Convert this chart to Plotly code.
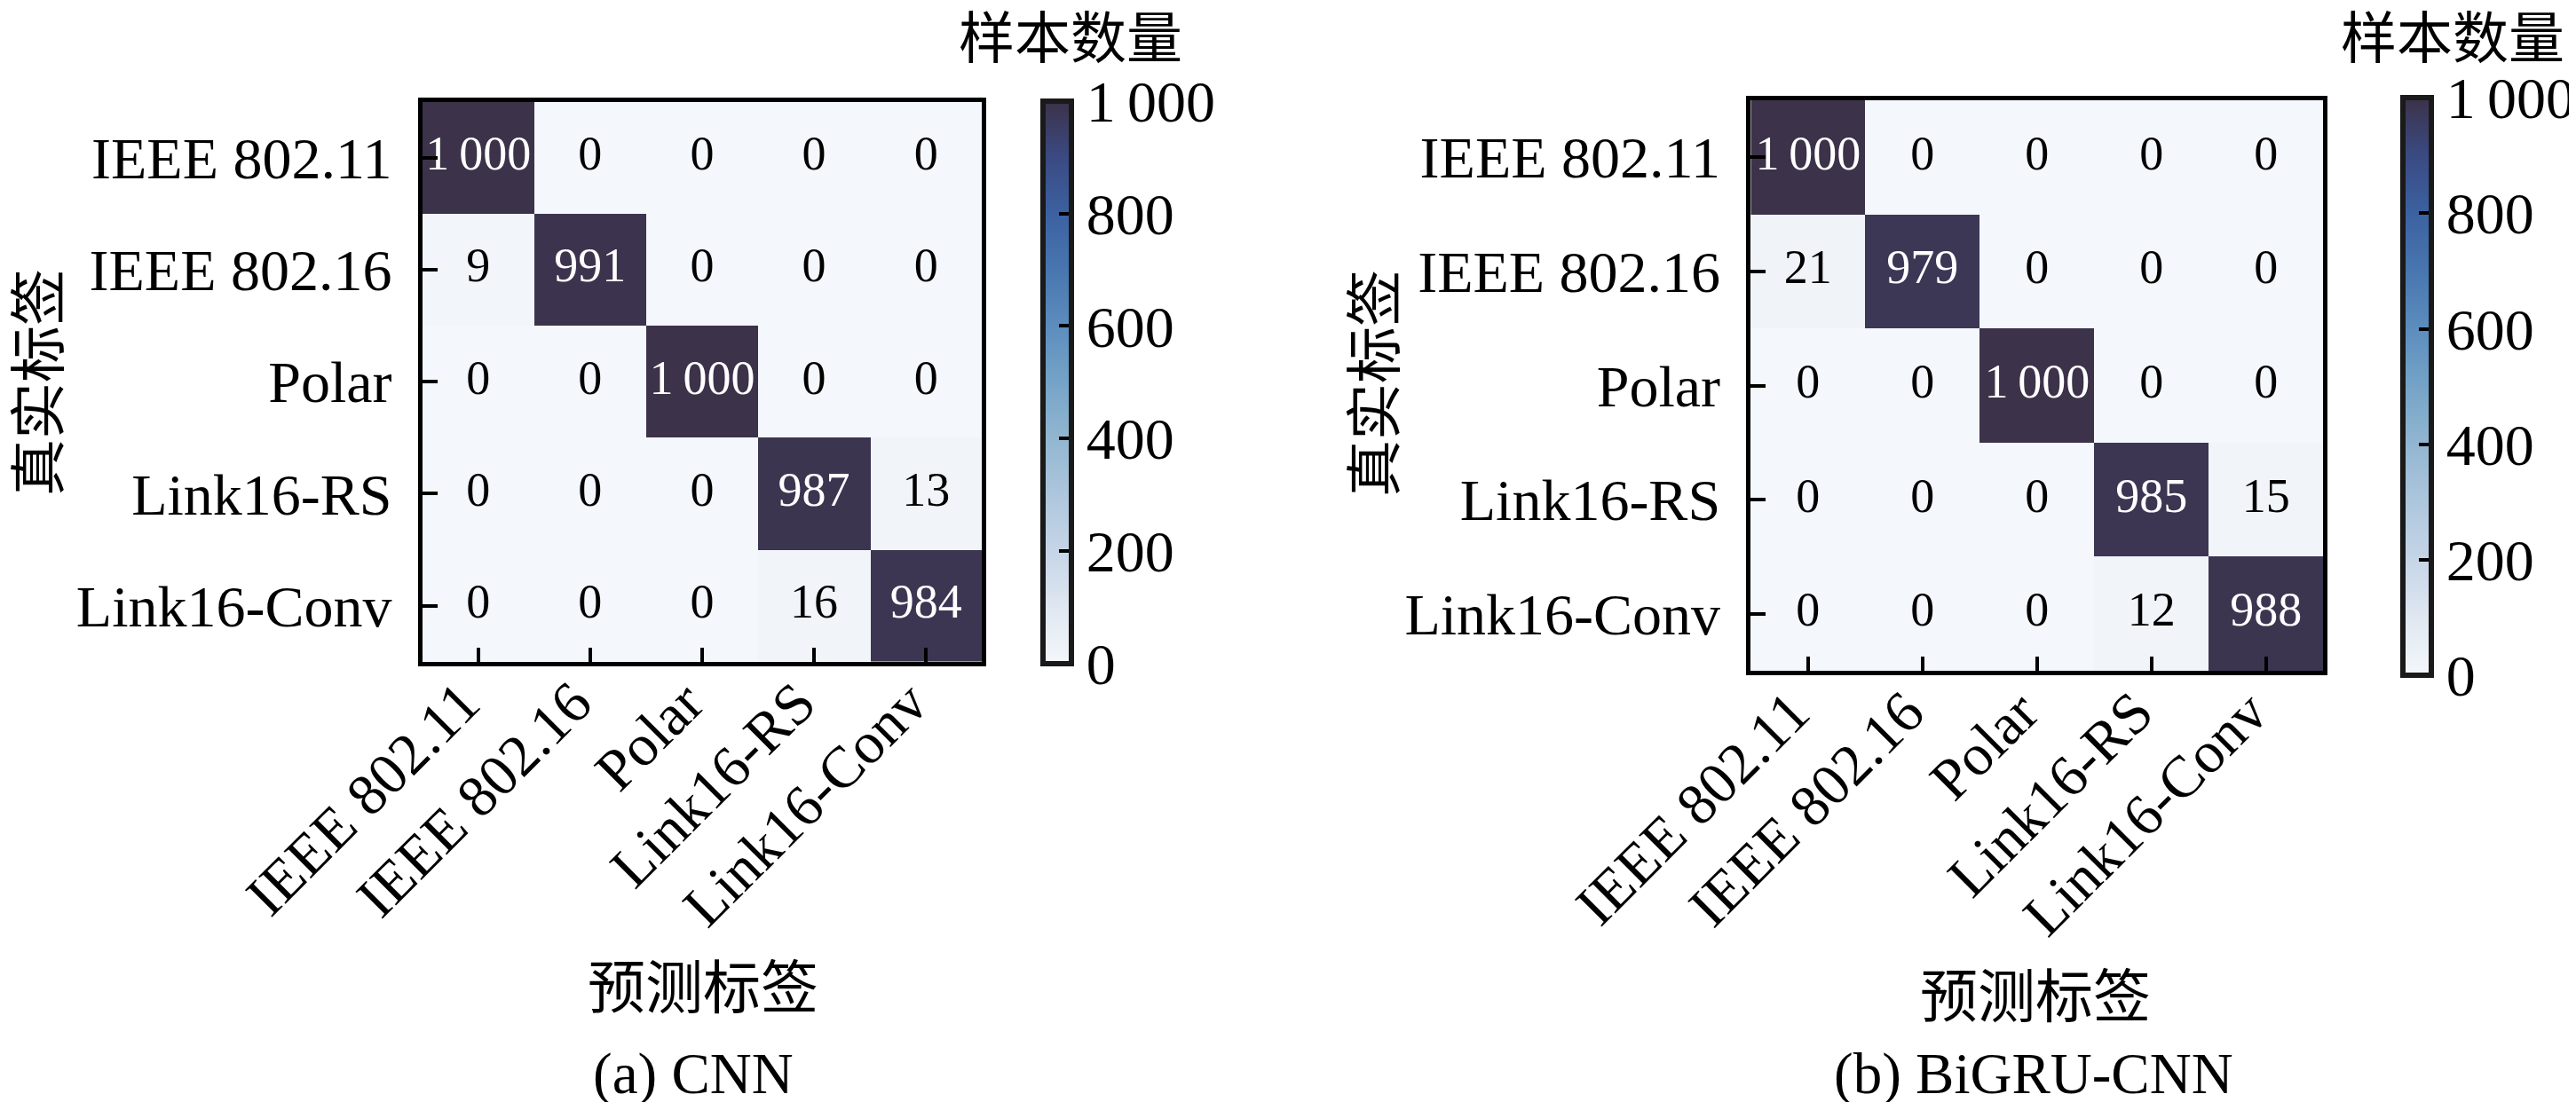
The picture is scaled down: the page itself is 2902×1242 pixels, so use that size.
import plotly.graph_objects as go

W, H = 2902, 1242

labels = ["IEEE 802.11", "IEEE 802.16", "Polar", "Link16-RS", "Link16-Conv"]

cnn_values = [
    [1000, 0, 0, 0, 0],
    [9, 991, 0, 0, 0],
    [0, 0, 1000, 0, 0],
    [0, 0, 0, 987, 13],
    [0, 0, 0, 16, 984],
]
bigru_cnn_values = [
    [1000, 0, 0, 0, 0],
    [21, 979, 0, 0, 0],
    [0, 0, 1000, 0, 0],
    [0, 0, 0, 985, 15],
    [0, 0, 0, 12, 988],
]
cbar_tickvals = [0, 200, 400, 600, 800, 1000]
cbar_ticktext = ["0", "200", "400", "600", "800", "1\u2009000"]

panel_titles = ["(a) CNN", "(b) BiGRU-CNN"]
cbar_title = "样本数量"
x_title = "预测标签"
y_title = "真实标签"

colorscale = [
    [0.0, "#f4f7fb"],
    [0.1, "#dfe7f1"],
    [0.2, "#c6d5e7"],
    [0.3, "#adc6dc"],
    [0.4, "#92b6d1"],
    [0.5, "#75a3c7"],
    [0.6, "#5c8dbd"],
    [0.7, "#4876af"],
    [0.8, "#3c61a1"],
    [0.9, "#3a4a82"],
    [1.0, "#3c3249"],
]

LATIN = "Liberation Serif, Noto Sans CJK SC, serif"
CJK = "Noto Sans CJK SC, Liberation Serif, sans-serif"


def fmt(v):
    return f"{v:,}".replace(",", "\u2009")


def px_x(p):
    return p / W


def px_y(p):
    return 1 - p / H


# panel geometry in pixels (inner plot area)
panels = [
    dict(x0=467.7, x1=1098.3, y0=106.7, y1=737.7,
         cb_left=1167.3, cb_top=105.7, cb_bot=740.0,
         cbt=(1198, 30), yt=(30, 423), xt=(784, 1100), st=773),
    dict(x0=1964.3, x1=2609.3, y0=105.0, y1=748.3,
         cb_left=2699.0, cb_top=102.3, cb_bot=753.0,
         cbt=(2755, 30), yt=(1535, 424), xt=(2285, 1110), st=2283),
]

fig = go.Figure()
datasets = [cnn_values, bigru_cnn_values]

annotations = []
for i, (vals, p) in enumerate(zip(datasets, panels)):
    n = i + 1
    xa = "x" if n == 1 else f"x{n}"
    ya = "y" if n == 1 else f"y{n}"
    ca = "coloraxis" if n == 1 else f"coloraxis{n}"
    fig.add_trace(go.Heatmap(
        z=vals, x=labels, y=labels, xaxis=xa, yaxis=ya, coloraxis=ca,
        hoverinfo="skip",
    ))
    tx, ty, tt, tc = [], [], [], []
    for r, row in enumerate(vals):
        for c, v in enumerate(row):
            tx.append(labels[c])
            ty.append(labels[r])
            tt.append(fmt(v))
            tc.append("white" if v >= 500 else "black")
    fig.add_trace(go.Scatter(
        x=tx, y=ty, text=tt, mode="text", xaxis=xa, yaxis=ya,
        textfont=dict(family=LATIN, size=54, color=tc),
        hoverinfo="skip", showlegend=False, cliponaxis=False,
    ))

    axis_common = dict(
        showline=True, linewidth=5, linecolor="black", mirror=True,
        ticks="inside", tickwidth=4, tickcolor="black",
        showgrid=False, zeroline=False, automargin=False,
        tickfont=dict(family=LATIN, size=66, color="black"),
    )
    fig.layout[f"xaxis{'' if n == 1 else n}"] = dict(
        axis_common, domain=[px_x(p["x0"]), px_x(p["x1"])], anchor=ya,
        ticklen=16, tickangle=-45, type="category",
        ticklabelstandoff=-24, ticklabelshift=-18,
    )
    fig.layout[f"yaxis{'' if n == 1 else n}"] = dict(
        axis_common, domain=[px_y(p["y1"]), px_y(p["y0"])], anchor=xa,
        ticklen=17, autorange="reversed", type="category",
        ticklabelstandoff=16,
    )
    cb_len = p["cb_bot"] - p["cb_top"]
    fig.layout[ca] = dict(
        colorscale=colorscale, cmin=0, cmax=1000,
        colorbar=dict(
            x=px_x(p["cb_left"]), xanchor="left", xpad=0,
            y=px_y((p["cb_top"] + p["cb_bot"]) / 2), yanchor="middle", ypad=0,
            lenmode="pixels", len=cb_len, thickness=32,
            outlinewidth=6, outlinecolor="#1a1a1a",
            ticks="inside", ticklen=17, tickwidth=4, tickcolor="black",
            tickvals=cbar_tickvals, ticktext=cbar_ticktext,
            tickfont=dict(family=LATIN, size=66, color="black"),
        ),
    )
    annotations += [
        dict(text=cbar_title, x=px_x(p["cbt"][0]), y=px_y(p["cbt"][1]),
             yanchor="middle",
             font=dict(family=CJK, size=63, color="black")),
        dict(text=y_title, x=px_x(p["yt"][0]), y=px_y(p["yt"][1]), textangle=-90,
             yanchor="middle",
             font=dict(family=CJK, size=64, color="black")),
        dict(text=x_title, x=px_x(p["xt"][0]), y=px_y(p["xt"][1]),
             yanchor="middle",
             font=dict(family=CJK, size=65, color="black")),
        dict(text=panel_titles[i], x=px_x(p["st"]), y=px_y(1240), yanchor="bottom",
             font=dict(family=LATIN, size=65, color="black")),
    ]

for a in annotations:
    a.update(xref="paper", yref="paper", xanchor="center", showarrow=False)

fig.update_layout(
    template="none",
    width=W, height=H, margin=dict(l=0, r=0, t=0, b=0, pad=0, autoexpand=False),
    paper_bgcolor="white", plot_bgcolor="white",
    showlegend=False, annotations=annotations,
)

fig.write_html("out.html")
